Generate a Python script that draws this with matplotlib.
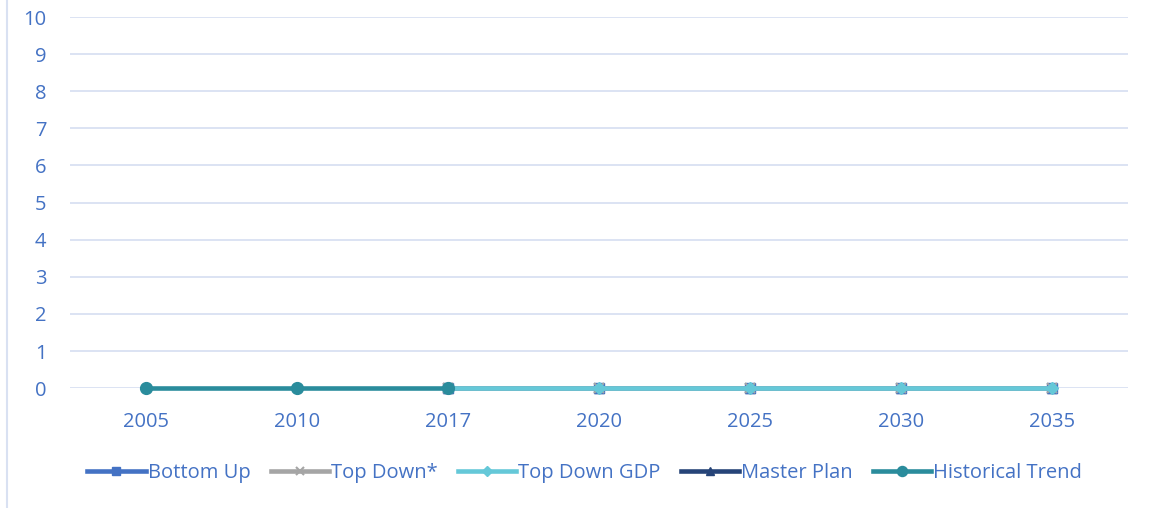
import numpy as np
import matplotlib.pyplot as plt
from matplotlib.lines import Line2D

plt.rcParams['font.family'] = ['Open Sans', 'DejaVu Sans']

years = ["2005", "2010", "2017", "2020", "2025", "2030", "2035"]
nan = np.nan
bottom_up = [nan, nan, 0, 0, 0, 0, 0]
top_down = [nan, nan, 0, 0, 0, 0, 0]
top_down_gdp = [nan, nan, 0, 0, 0, 0, 0]
master_plan = [nan, nan, 0, 0, 0, 0, 0]
historical = [0, 0, 0, nan, nan, nan, nan]

txt = "#4472C4"
grid = "#D9E1F2"

fig = plt.figure(figsize=(11.51, 5.08), dpi=100)
ax = fig.add_axes([0.0608, 0.236, 0.919, 0.7305])
x = np.arange(len(years))

kw = dict(lw=3.3, clip_on=False)
ax.plot(x, master_plan, color="#264478", marker="^", ms=7, label="Master Plan", zorder=2, **kw)
ax.plot(x, bottom_up, color="#4472C4", marker="s", ms=7.5, label="Bottom Up", zorder=3, **kw)
ax.plot(x, top_down, color="#A5A5A5", marker="x", ms=7, mew=1.5, label="Top Down*", zorder=4, **kw)
ax.plot(x, top_down_gdp, color="#65C8D8", marker="D", ms=6, label="Top Down GDP", zorder=5, **kw)
ax.plot(x, historical, color="#2A8C9C", marker="o", ms=8.5, label="Historical Trend", zorder=6, **kw)

ax.set_xlim(-0.5, len(years) - 0.5)
ax.set_ylim(0, 10)
ax.set_yticks(range(0, 11))
ax.set_xticks(x)
ax.set_xticklabels(years)
ax.grid(axis="y", color=grid, lw=1.3)
ax.set_axisbelow(True)
for s in ax.spines.values():
    s.set_visible(False)
ax.tick_params(length=0, labelsize=14.5, labelcolor=txt)
ax.tick_params(axis="x", pad=17)
ax.tick_params(axis="y", pad=17)

h, l = ax.get_legend_handles_labels()
order = ["Bottom Up", "Top Down*", "Top Down GDP", "Master Plan", "Historical Trend"]
hh = [h[l.index(n)] for n in order]
leg = fig.legend(hh, order, loc="center", bbox_to_anchor=(0.508, 0.068), ncol=5, frameon=False,
                 fontsize=14.5, handlelength=2.9, handletextpad=0.1, columnspacing=1.0, markerscale=0.85)
for t in leg.get_texts():
    t.set_color(txt)

fig.add_artist(Line2D([0.006, 0.006], [0, 1], color=grid, lw=1.5))

fig.savefig("out.png", dpi=100)
